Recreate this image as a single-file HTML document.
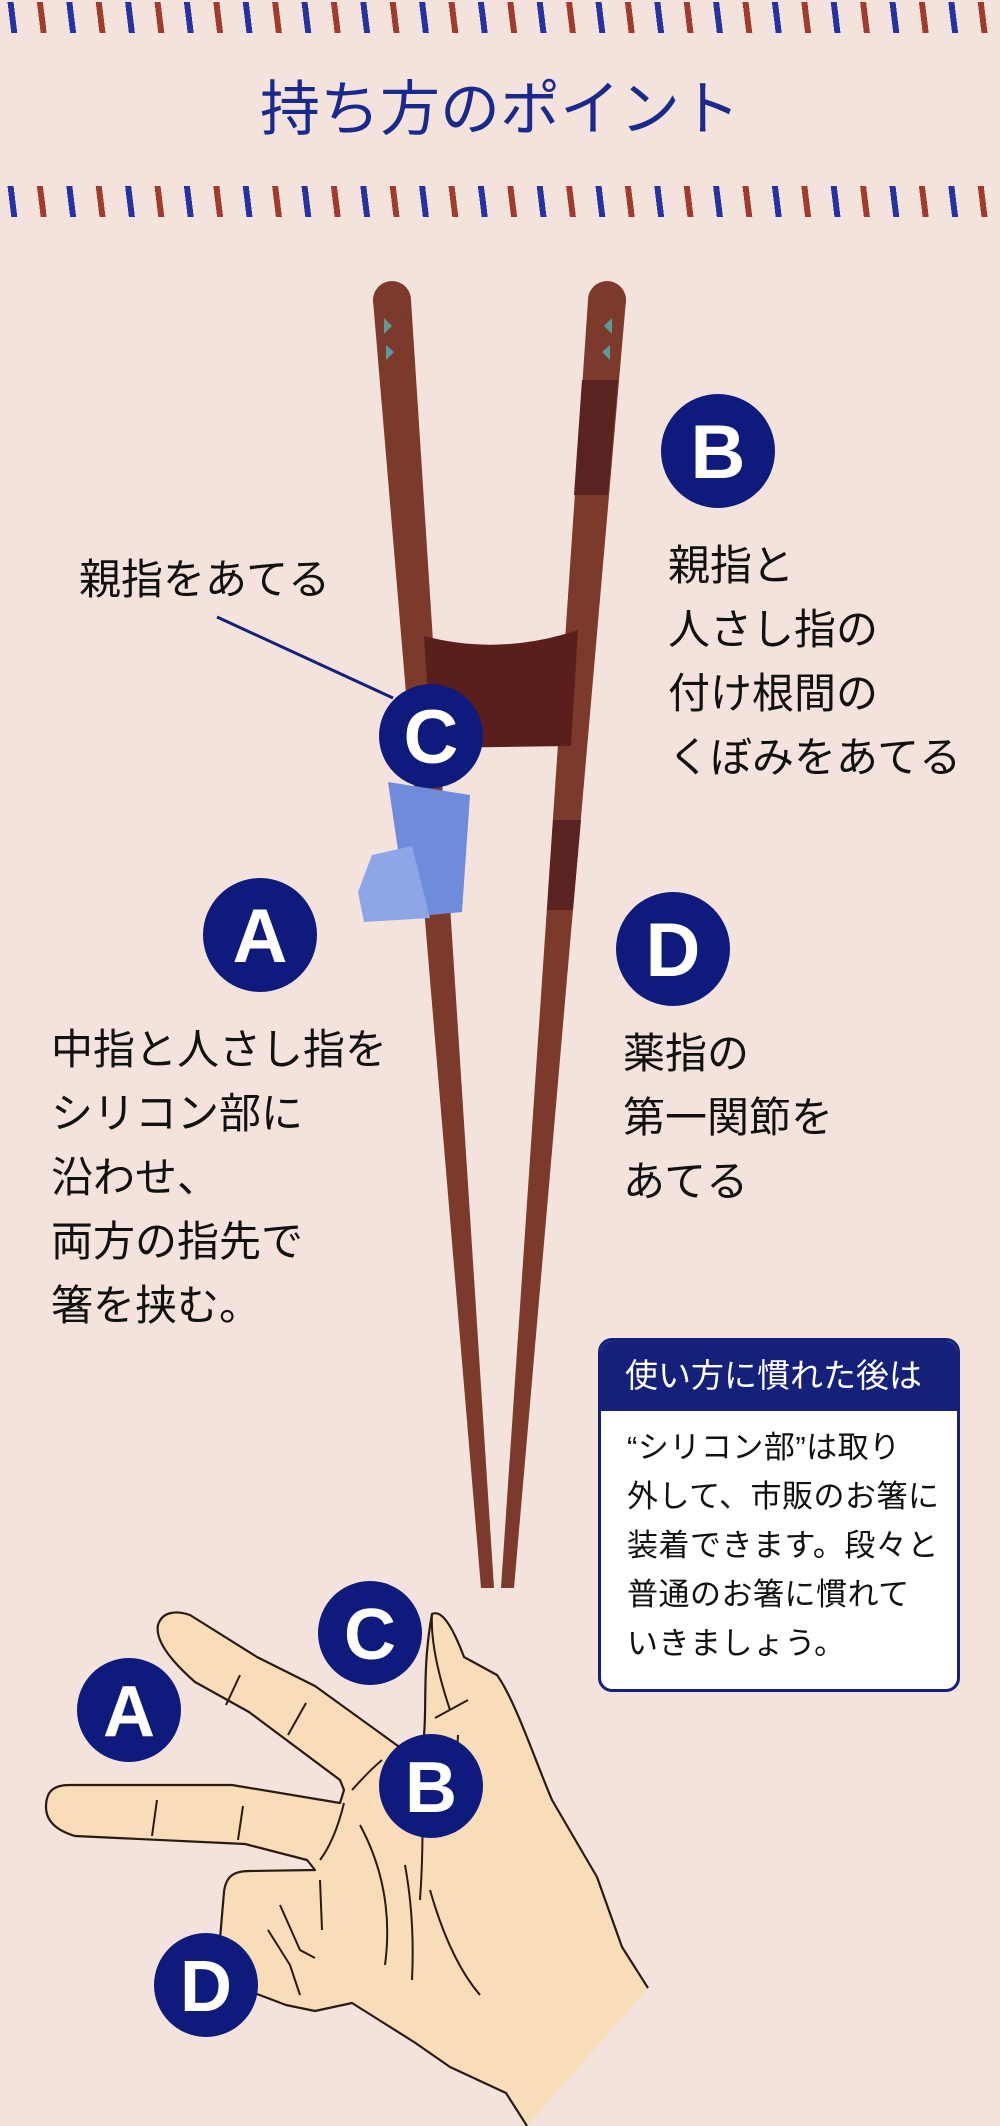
<!DOCTYPE html>
<html><head><meta charset="utf-8"><style>
html,body{margin:0;padding:0;}
body{width:1000px;height:2126px;background:#f4e2dc;overflow:hidden;position:relative;font-family:"Liberation Sans","Noto Sans CJK JP",sans-serif;}
svg{position:absolute;left:0;top:0;}
.stripe{position:absolute;left:-20px;width:1060px;height:31px;transform:skewX(7deg);
background:repeating-linear-gradient(to right,#a33a2e 0,#a33a2e 6px,transparent 6px,transparent 29.4px,#2433a0 29.4px,#2433a0 35.4px,transparent 35.4px,transparent 58.8px);}
.t{position:absolute;color:#111;font-size:42px;line-height:64px;white-space:nowrap;}
.box{position:absolute;left:598px;top:1338px;width:356px;height:348px;border:3px solid #15207a;border-radius:14px;background:#fff;overflow:hidden;}
.box .h{background:#15207a;color:#fff;height:70px;line-height:70px;font-size:33px;padding-left:24px;white-space:nowrap;}
.box .b{font-size:31px;line-height:49px;padding:12px 0 0 26px;color:#111;white-space:nowrap;letter-spacing:0.5px;}
</style></head><body>
<div class="stripe" style="top:2px;"></div>
<div class="stripe" style="top:186px;"></div>
<svg width="1000" height="2126" viewBox="0 0 1000 2126">
<text x="500" y="130" text-anchor="middle" font-size="60" fill="#1a2a8c" font-family="Liberation Sans, Noto Sans CJK JP, sans-serif">持ち方のポイント</text>
<!-- chopsticks -->
<polygon points="373,300 411,300 494,1588 481,1588" fill="#7b3a2c"/>
<circle cx="392" cy="300" r="19" fill="#7b3a2c"/>
<polygon points="588,300 626,300 514,1588 501,1588" fill="#7b3a2c"/>
<circle cx="607" cy="300" r="19" fill="#7b3a2c"/>
<polygon points="582,380 618,380 608,495 574,495" fill="#5a2220"/>
<polygon points="553,820 581,820 573,910 547,910" fill="#5a2220"/>
<path d="M424,636 Q500,656 578,630 L571,746 L431,748 Z" fill="#5a1f1c"/>
<polygon points="384,318 392,326 384,334" fill="#5a9a98"/>
<polygon points="386,345 394,352 386,360" fill="#5a9a98"/>
<polygon points="612,318 604,326 612,334" fill="#5a9a98"/>
<polygon points="610,345 602,352 610,360" fill="#5a9a98"/>
<!-- silicone -->
<polygon points="388,782 470,795 462,912 420,916 398,850" fill="#6f8cdc"/>
<polygon points="372,855 412,846 430,918 364,922 358,892" fill="#8ea6e8"/>
<!-- leader -->
<line x1="217" y1="617" x2="393" y2="698" stroke="#15207a" stroke-width="3"/>
<!-- hand -->
<path d="M527,2126 L506,2093 L450,2067 L414,2042 L352,2003 L315,2011 L286,2005 L257,1994 C230,1980 220,1960 220,1939 L224,1892 C226,1875 235,1871 250,1871 L315,1870 L307,1860 L245,1844 L75,1836 C55,1830 46,1820 46,1807 C46,1790 55,1785 70,1785 L232,1785 L340,1803 L344,1790 L340,1780 L249,1712 L195,1682 C170,1660 155,1640 158,1625 C162,1612 175,1610 190,1615 L257,1657 L315,1686 L398,1746 L420,1760 C430,1720 420,1680 432,1614 C440,1610 450,1620 464,1657 L497,1675 C515,1700 535,1760 552,1800 L597,1877 L622,1947 L648,1988" fill="#f9dcb8" stroke="#2a1a14" stroke-width="2.2" stroke-linejoin="round"/>
<g fill="none" stroke="#2a1a14" stroke-width="2">
<path d="M240,1675 L226,1705"/><path d="M306,1703 L288,1735"/>
<path d="M157,1800 L152,1836"/><path d="M243,1806 L238,1840"/>
<path d="M344,1803 Q335,1840 320,1860"/><path d="M352,1790 Q370,1770 382,1760"/>
<path d="M360,1825 Q395,1890 385,1965"/><path d="M420,1760 Q425,1830 420,1900"/>
<path d="M405,1865 Q415,1920 412,1980"/><path d="M430,1890 Q450,1960 480,1995"/>
<path d="M458,1735 L455,1790"/><path d="M432,1614 Q430,1650 450,1710"/>
<path d="M280,1905 L300,1950 L315,1958"/><path d="M268,1930 L290,1965 L300,1995"/>
<path d="M320,1880 L322,1930"/><path d="M435,1718 L468,1700"/>
</g>
<!-- circles -->
<g font-family="Liberation Sans, DejaVu Sans, sans-serif" font-weight="bold" fill="#fff" text-anchor="middle">
<circle cx="431" cy="736" r="52" fill="#0f1b7c"/><text x="431" y="763" font-size="76">C</text>
<circle cx="718" cy="451" r="57" fill="#0f1b7c"/><text x="718" y="478" font-size="76">B</text>
<circle cx="260" cy="935" r="57" fill="#0f1b7c"/><text x="260" y="962" font-size="76">A</text>
<circle cx="673" cy="949" r="57" fill="#0f1b7c"/><text x="673" y="976" font-size="76">D</text>
<circle cx="370" cy="1633" r="52" fill="#0f1b7c"/><text x="370" y="1659" font-size="72">C</text>
<circle cx="129" cy="1710" r="52" fill="#0f1b7c"/><text x="129" y="1736" font-size="72">A</text>
<circle cx="431" cy="1786" r="52" fill="#0f1b7c"/><text x="431" y="1812" font-size="72">B</text>
<circle cx="206" cy="1985" r="52" fill="#0f1b7c"/><text x="206" y="2011" font-size="72">D</text>
</g>
</svg>
<div class="t" style="left:79px;top:548px;">親指をあてる</div>
<div class="t" style="left:668px;top:534px;">親指と<br>人さし指の<br>付け根間の<br>くぼみをあてる</div>
<div class="t" style="left:51px;top:1018px;">中指と人さし指を<br>シリコン部に<br>沿わせ、<br>両方の指先で<br>箸を挟む。</div>
<div class="t" style="left:623px;top:1022px;">薬指の<br>第一関節を<br>あてる</div>
<div class="box"><div class="h">使い方に慣れた後は</div><div class="b">“シリコン部”は取り<br>外して、市販のお箸に<br>装着できます。段々と<br>普通のお箸に慣れて<br>いきましょう。</div></div>
</body></html>
